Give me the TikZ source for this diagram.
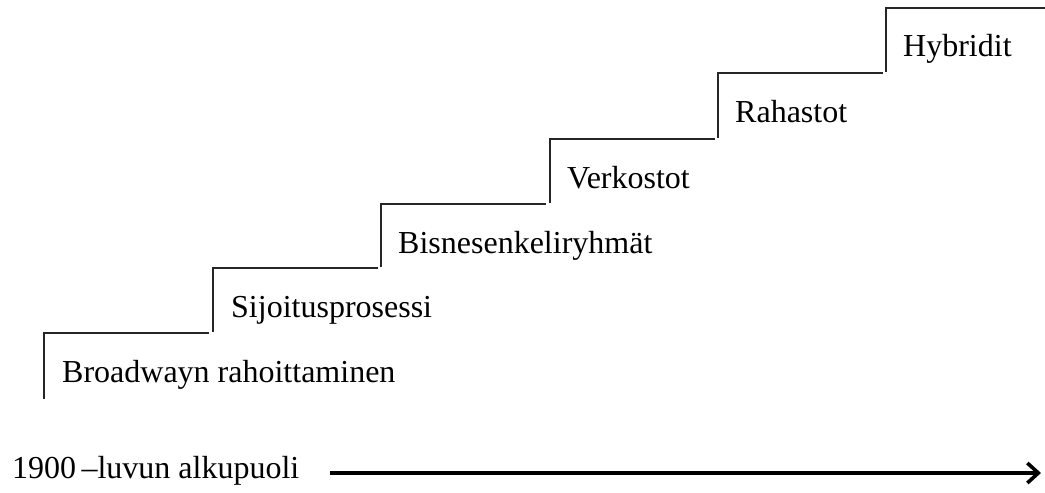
\documentclass[tikz,border=0pt]{standalone}
\usepackage{fontspec}
\setmainfont{Liberation Serif}
\usetikzlibrary{arrows.meta}
\begin{document}
\begin{tikzpicture}[x=1pt,y=-1pt,
  stair/.style={line width=2pt,draw=black!85},
  lbl/.style={anchor=base west,inner sep=0pt,font=\fontsize{32}{38}\selectfont},
  timeline/.style={line width=3.6pt,-{Straight Barb[length=11pt,width=20pt,line width=3.6pt]}}]
\useasboundingbox (0,0) rectangle (1045,493);
% steps
\draw[stair] (44,399) -- (44,333) -- (209,333);
\draw[stair] (213,332) -- (213,268) -- (378,268);
\draw[stair] (381,267) -- (381,204) -- (546,204);
\draw[stair] (550,203) -- (550,139) -- (715,139);
\draw[stair] (718,138) -- (718,73) -- (883,73);
\draw[stair] (886,72) -- (886,8) -- (1045,8);
% labels
\node[lbl] (s1) at (62,382) {Broadwayn rahoittaminen};
\node[lbl] (s2) at (231,317) {Sijoitusprosessi};
\node[lbl] (s3) at (398,253) {Bisnesenkeliryhmät};
\node[lbl] (s4) at (567,188) {Verkostot};
\node[lbl] (s5) at (735,122) {Rahastot};
\node[lbl] (s6) at (903,56) {Hybridit};
% timeline
\node[lbl] (t) at (12,478) {1900\,–luvun alkupuoli};
\coordinate (as) at (330,473);
\coordinate (ae) at (1041,473);
\draw[timeline] (as) -- (ae);
\end{tikzpicture}
\end{document}
